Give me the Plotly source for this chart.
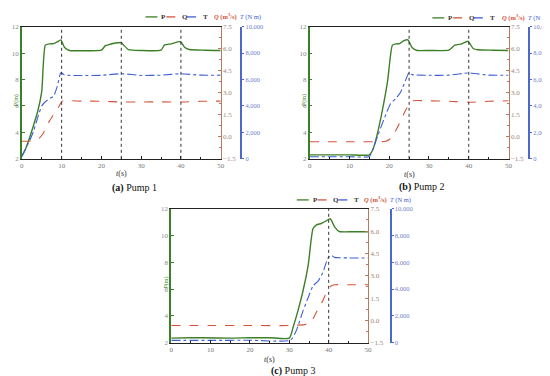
import plotly.graph_objects as go

# ---------------- data ----------------
# Pump 1
t1 = [0, 1, 2, 3, 4, 5, 5.9, 7, 8, 8.9, 9.8, 10.7, 12, 16, 20, 21, 21.9, 23.5, 25, 25.6, 26.8, 30, 35, 35.9, 37.6, 39.9, 40.9, 42.1, 46, 50]
P1 = [2.2, 2.8, 3.65, 4.6, 5.6, 7.1, 10.6, 10.7, 10.72, 10.85, 11.0, 10.45, 10.2, 10.18, 10.22, 10.56, 10.64, 10.76, 10.8, 10.6, 10.27, 10.2, 10.22, 10.62, 10.7, 10.86, 10.45, 10.27, 10.22, 10.2]
tq1 = [0, 2, 4, 5.3, 7, 8.6, 9.4, 10.1, 15, 20, 25, 30, 35, 40, 45, 50]
Q1 = [-0.3, -0.3, -0.19, 0.21, 1.1, 1.77, 2.1, 2.43, 2.43, 2.42, 2.37, 2.37, 2.38, 2.37, 2.42, 2.43]
tt1 = [0, 1, 2, 3, 4, 5, 5.9, 7, 8, 8.9, 9.8, 10.7, 15, 20, 25, 30, 35, 40, 45, 50]
T1 = [170, 790, 1400, 2150, 3140, 4000, 4320, 4570, 4740, 5480, 6520, 6350, 6300, 6320, 6440, 6310, 6330, 6440, 6330, 6330]

# Pump 2
t2 = [0, 5, 10, 15, 15.9, 17.1, 18.3, 19.6, 20.8, 21.7, 22.6, 23.7, 24.7, 25.8, 27, 30, 35, 36.5, 38.2, 39.8, 41.1, 42.3, 46, 50]
P2 = [2.3, 2.3, 2.3, 2.3, 2.7, 4.0, 5.7, 7.9, 10.6, 10.7, 10.72, 10.95, 11.0, 10.4, 10.2, 10.2, 10.22, 10.6, 10.7, 10.9, 10.35, 10.25, 10.22, 10.2]
tq2 = [0, 10, 19.2, 20.4, 21.7, 22.9, 24.1, 25, 25.8, 30, 35, 40, 45, 50]
Q2 = [-0.34, -0.34, -0.3, -0.1, 0.45, 1.1, 1.8, 2.2, 2.45, 2.45, 2.42, 2.35, 2.42, 2.45]
tt2 = [0, 5, 10, 15, 15.9, 17.1, 18.3, 19.6, 20.4, 21.7, 22.9, 24.1, 25, 25.8, 30, 35, 40, 45, 50]
T2 = [160, 160, 160, 170, 740, 1730, 2700, 3700, 4200, 4570, 5060, 5930, 6540, 6370, 6320, 6330, 6500, 6330, 6320]

# Pump 3
t3 = [0, 5, 8, 15, 20, 25, 30, 31, 32.2, 33.5, 34.8, 36, 36.9, 38.1, 39.4, 40.4, 41.5, 42.7, 46, 50]
P3 = [2.35, 2.38, 2.38, 2.35, 2.38, 2.38, 2.35, 3.2, 4.4, 5.9, 7.8, 10.5, 10.8, 10.9, 11.1, 11.25, 10.65, 10.3, 10.28, 10.28]
tq3 = [0, 10, 20, 30, 34.8, 36, 37.3, 38.5, 39.8, 40.6, 41.5, 45, 50]
Q3 = [-0.34, -0.34, -0.34, -0.34, -0.23, 0.11, 0.77, 1.32, 2.1, 2.31, 2.4, 2.4, 2.4]
tt3 = [0, 10, 20, 30.3, 31.8, 33.5, 34.8, 36, 37.3, 38.5, 39.8, 40.6, 41.5, 45, 50]
T3 = [180, 180, 190, 190, 930, 2400, 3380, 4240, 4600, 5220, 6320, 6520, 6370, 6330, 6320]

vlines = [[10, 25, 40], [25, 40], [40]]
captions = [("(a)", "Pump 1"), ("(b)", "Pump 2"), ("(c)", "Pump 3")]

P_ticks = [2, 4, 6, 8, 10, 12]
Q_ticks = [-1.5, 0.0, 1.5, 3.0, 4.5, 6.0, 7.5]
T_ticks = [0, 2000, 4000, 6000, 8000, 10000]
t_ticks = [0, 10, 20, 30, 40, 50]

series = [(t1, P1, tq1, Q1, tt1, T1), (t2, P2, tq2, Q2, tt2, T2), (t3, P3, tq3, Q3, tt3, T3)]

# ---------------- styling / layout ----------------
W, H = 550, 376
FONT = "Liberation Serif, Times New Roman, serif"
GREEN = "#3d7f27"
RED = "#d2553a"
BLUE = "#3e5fd6"
QAX = "#b77a5f"
TAX = "#4a68d0"

def fx(x):
    return x / W

def fy(y):
    return 1 - y / H

# panel pixel boxes
panels = [
    dict(l=12, r=213, t=15, b=150, tax=234, lx=137, ly=5, ty=165, cx=126, cy=180),
    dict(l=303, r=504, t=15, b=150, tax=525, lx=427, ly=6, ty=166, cx=417, cy=179),
    dict(l=163, r=362, t=201, b=338, tax=385, lx=290, ly=192, ty=355, cx=286, cy=367),
]

fig = go.Figure()
layout = dict(
    width=W, height=H, margin=dict(l=0, r=0, t=0, b=0),
    paper_bgcolor="white", plot_bgcolor="white", showlegend=False,
    font=dict(family=FONT, size=7, color="#555"),
)
shapes = []
annotations = []

for i, (pn, s) in enumerate(zip(panels, series)):
    tP, P, tQ, Q, tT, T = s
    xa = "x" if i == 0 else f"x{i+1}"
    ya = 3 * i + 1
    yP = "y" if ya == 1 else f"y{ya}"
    yQ = f"y{ya+1}"
    yT = f"y{ya+2}"
    xkey = "xaxis" if i == 0 else f"xaxis{i+1}"
    kP = "yaxis" if ya == 1 else f"yaxis{ya}"
    kQ = f"yaxis{ya+1}"
    kT = f"yaxis{ya+2}"

    fig.add_trace(go.Scatter(x=tQ, y=Q, xaxis=xa, yaxis=yQ, mode="lines", name="Q",
                             line=dict(color=RED, width=1.1, dash="dash", shape="spline", smoothing=0.5)))
    fig.add_trace(go.Scatter(x=tT, y=T, xaxis=xa, yaxis=yT, mode="lines", name="T",
                             line=dict(color=BLUE, width=1.1, dash="dashdot", shape="spline", smoothing=0.5)))
    fig.add_trace(go.Scatter(x=tP, y=P, xaxis=xa, yaxis=yP, mode="lines", name="P",
                             line=dict(color=GREEN, width=1.4, shape="spline", smoothing=0.5)))

    dom_x = [fx(pn["l"]), fx(pn["r"])]
    dom_y = [fy(pn["b"]), fy(pn["t"])]
    layout[xkey] = dict(domain=dom_x, anchor=yP, range=[0, 50], tickvals=t_ticks,
                        showline=True, linecolor="#222", linewidth=1, mirror=True,
                        ticks="inside", ticklen=3, tickcolor="#222",
                        minor=dict(dtick=5, ticks="inside", ticklen=2, tickcolor="#222"),
                        showgrid=False, zeroline=False,
                        tickfont=dict(family=FONT, size=7, color="#777"))
    layout[kP] = dict(domain=dom_y, anchor=xa, range=[2, 12], tickvals=P_ticks,
                      showline=True, linecolor=GREEN, linewidth=1.5,
                      ticks="inside", ticklen=3, tickcolor=GREEN,
                      showgrid=False, zeroline=False,
                      tickfont=dict(family=FONT, size=7, color="#888"))
    layout[kQ] = dict(overlaying=yP, anchor=xa, side="right", range=[-1.5, 7.5], tickvals=Q_ticks,
                      tickformat=".1f", showline=True, linecolor=QAX, linewidth=1,
                      ticks="inside", ticklen=3, tickcolor=QAX,
                      minor=dict(dtick=0.75, ticks="inside", ticklen=2, tickcolor=QAX),
                      showgrid=False, zeroline=False,
                      tickfont=dict(family=FONT, size=7, color="#a08478"))
    layout[kT] = dict(overlaying=yP, anchor="free", position=fx(pn["tax"]), side="right",
                      range=[0, 10000], tickvals=T_ticks, tickformat=",",
                      showline=True, linecolor=TAX, linewidth=1.5,
                      ticks="outside", ticklen=2, tickcolor=TAX,
                      showgrid=False, zeroline=False,
                      tickfont=dict(family=FONT, size=6.5, color="#7080c8"))

    for v in vlines[i]:
        shapes.append(dict(type="line", xref=xa, yref=f"{yP} domain", x0=v, x1=v, y0=0, y1=1,
                           line=dict(color="#333", width=1, dash="dot")))

    # legend drawn as key samples + labels
    lx, ly = pn["lx"], pn["ly"]
    keys = [("P", GREEN, "solid"), ("Q", RED, "dash"), ("T", BLUE, "dashdot")]
    for k, (lab, col, dash) in enumerate(keys):
        x0 = lx + k * 21
        shapes.append(dict(type="line", xref="paper", yref="paper",
                           x0=fx(x0), x1=fx(x0 + 12), y0=fy(ly), y1=fy(ly),
                           line=dict(color=col, width=1.3, dash=dash)))
        annotations.append(dict(text=f"<b>{lab}</b>", xref="paper", yref="paper",
                                x=fx(x0 + 14), y=fy(ly), xanchor="left", yanchor="middle",
                                showarrow=False, font=dict(family=FONT, size=7, color="#333")))
    annotations.append(dict(text="<b><i>Q</i> (m<sup>3</sup>/s)</b>", xref="paper", yref="paper",
                            x=fx(pn["tax"] - 2), y=fy(ly), xanchor="right", yanchor="middle",
                            showarrow=False, font=dict(family=FONT, size=6.5, color=RED)))
    annotations.append(dict(text="<i>T</i> (N m)", xref="paper", yref="paper",
                            x=fx(pn["tax"] + 22), y=fy(ly), xanchor="right", yanchor="middle",
                            showarrow=False, font=dict(family=FONT, size=6.5, color=BLUE)))
    # axis titles
    annotations.append(dict(text="<i>P</i>(m)", xref="paper", yref="paper",
                            x=fx(pn["l"] - 5), y=fy((pn["t"] + pn["b"]) / 2 + 8),
                            xanchor="center", yanchor="middle", textangle=-90,
                            showarrow=False, font=dict(family=FONT, size=6, color=GREEN)))
    annotations.append(dict(text="<i>t</i>(s)", xref="paper", yref="paper",
                            x=fx((pn["l"] + pn["r"]) / 2), y=fy(pn["ty"]),
                            xanchor="center", yanchor="middle",
                            showarrow=False, font=dict(family=FONT, size=8, color="#333")))
    a, b = captions[i]
    annotations.append(dict(text=f"<b>{a}</b> {b}", xref="paper", yref="paper",
                            x=fx(pn["cx"]), y=fy(pn["cy"]), xanchor="center", yanchor="middle",
                            showarrow=False, font=dict(family=FONT, size=10, color="#111")))

layout["shapes"] = shapes
layout["annotations"] = annotations
fig.update_layout(**layout)
fig.write_html("out.html")
